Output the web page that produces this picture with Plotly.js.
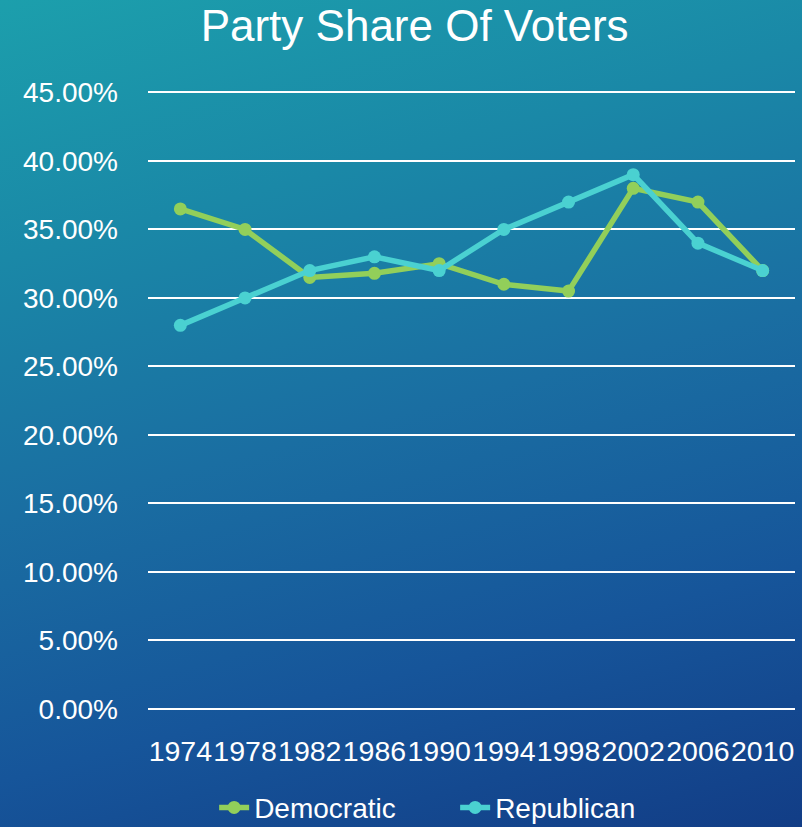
<!DOCTYPE html>
<html>
<head>
<meta charset="utf-8">
<script src="https://cdn.plot.ly/plotly-3.0.1.min.js"></script>
<style>
  html, body { margin: 0; padding: 0; }
  body {
    width: 802px; height: 827px; overflow: hidden;
    background: linear-gradient(165deg, #1c9fac 0%, #1a88a7 25%, #1a6ea2 50%, #16559a 75%, #123d86 100%);
  }
  #chart { width: 802px; height: 827px; }
</style>
</head>
<body>
<div id="chart"></div>
<script>
const years = ['1974', '1978', '1982', '1986', '1990', '1994', '1998', '2002', '2006', '2010'];
const democratic = [0.365, 0.350, 0.315, 0.318, 0.325, 0.310, 0.305, 0.380, 0.370, 0.320];
const republican = [0.280, 0.300, 0.320, 0.330, 0.320, 0.350, 0.370, 0.390, 0.340, 0.320];

const FONT = '"Liberation Sans", Arial, sans-serif';

const traces = [
  {
    x: years, y: democratic, name: 'Democratic', type: 'scatter', mode: 'lines+markers',
    line: { color: '#92cf5a', width: 5.5 },
    marker: { color: '#92cf5a', size: 13 }
  },
  {
    x: years, y: republican, name: 'Republican', type: 'scatter', mode: 'lines+markers',
    line: { color: '#4ad1d1', width: 5.5 },
    marker: { color: '#4ad1d1', size: 13 }
  }
];

const layout = {
  width: 802, height: 827,
  paper_bgcolor: 'rgba(0,0,0,0)',
  plot_bgcolor: 'rgba(0,0,0,0)',
  margin: { l: 148, r: 7, t: 89, b: 118 },
  font: { family: FONT, color: '#ffffff' },
  title: {
    text: 'Party Share Of Voters',
    font: { family: FONT, size: 44, color: '#ffffff' },
    x: 0.517, xanchor: 'center', y: 0.988, yanchor: 'top'
  },
  xaxis: {
    type: 'category',
    range: [-0.5, 9.5],
    showgrid: false, zeroline: false, showline: false,
    tickfont: { family: FONT, size: 28.5, color: '#ffffff' },
    tickangle: 0,
    ticks: '', ticklabelstandoff: 22,
    fixedrange: true
  },
  yaxis: {
    range: [0, 0.4525],
    dtick: 0.05, tick0: 0,
    tickformat: '.2%',
    showgrid: true, gridcolor: '#ffffff', gridwidth: 2,
    zeroline: true, zerolinecolor: '#ffffff', zerolinewidth: 2,
    showline: false, ticks: '',
    tickfont: { family: FONT, size: 28, color: '#ffffff' },
    ticklabelstandoff: 29,
    fixedrange: true
  },
  showlegend: true,
  legend: {
    orientation: 'h',
    xref: 'container', x: 0.267, xanchor: 'left',
    yref: 'container', y: 0.0535, yanchor: 'top',
    font: { family: FONT, size: 28, color: '#ffffff' },
    bgcolor: 'rgba(0,0,0,0)',
    entrywidth: 196, entrywidthmode: 'pixels'
  }
};

Plotly.newPlot('chart', traces, layout, { displayModeBar: false, staticPlot: true });
</script>
</body>
</html>
